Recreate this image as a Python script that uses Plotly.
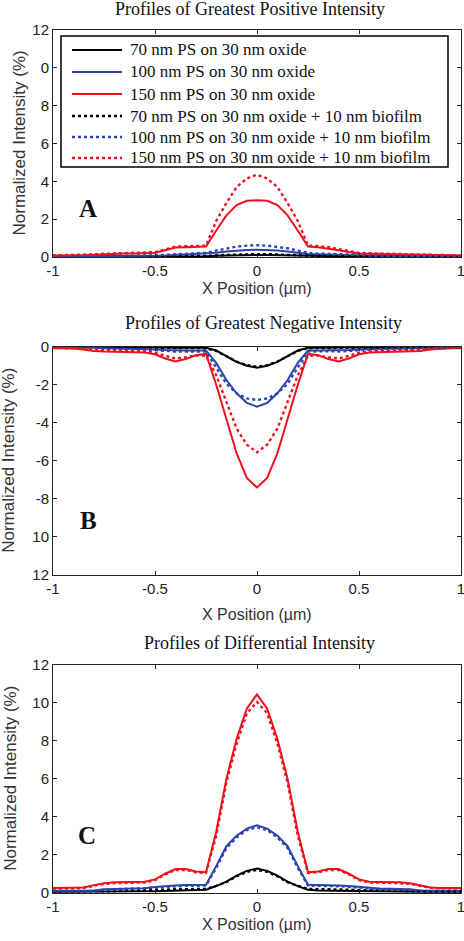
import plotly.graph_objects as go

W, H = 464, 941

X = [-1.0, -0.95, -0.9, -0.85, -0.8, -0.75, -0.7, -0.65, -0.6, -0.55, -0.5, -0.45, -0.4, -0.35, -0.3,
     -0.25, -0.2, -0.15, -0.1, -0.05, 0.0, 0.05, 0.1, 0.15, 0.2, 0.25, 0.3, 0.35, 0.4, 0.45, 0.5,
     0.55, 0.6, 0.65, 0.7, 0.75, 0.8, 0.85, 0.9, 0.95, 1.0]

series_names = ["70 nm PS on 30 nm oxide", "100 nm PS on 30 nm oxide", "150 nm PS on 30 nm oxide",
                "70 nm PS on 30 nm oxide + 10 nm biofilm", "100 nm PS on 30 nm oxide + 10 nm biofilm",
                "150 nm PS on 30 nm oxide + 10 nm biofilm"]

# Panel A: greatest positive intensity (%)
A_70 = [0.01, 0.01, 0.01, 0.01, 0.01, 0.01, 0.01, 0.01, 0.02, 0.02, 0.02, 0.02, 0.03, 0.03, 0.03, 0.04, 0.06, 0.08, 0.10, 0.11,
        0.11,
        0.11, 0.10, 0.08, 0.06, 0.04, 0.03, 0.03, 0.03, 0.02, 0.02, 0.02, 0.02, 0.01, 0.01, 0.01, 0.01, 0.01, 0.01, 0.01, 0.01]
A_100 = [0.03, 0.03, 0.03, 0.03, 0.04, 0.04, 0.05, 0.05, 0.05, 0.06, 0.07, 0.08, 0.10, 0.12, 0.14, 0.16, 0.22, 0.29, 0.34, 0.37,
         0.38,
         0.37, 0.34, 0.29, 0.22, 0.16, 0.14, 0.12, 0.10, 0.08, 0.07, 0.06, 0.05, 0.05, 0.05, 0.04, 0.04, 0.03, 0.03, 0.03, 0.03]
A_150 = [0.08, 0.08, 0.09, 0.10, 0.12, 0.15, 0.17, 0.18, 0.19, 0.20, 0.23, 0.36, 0.50, 0.52, 0.53, 0.55, 1.40, 2.20, 2.75, 2.97,
         3.00,
         2.97, 2.75, 2.20, 1.40, 0.55, 0.52, 0.46, 0.36, 0.26, 0.19, 0.17, 0.16, 0.15, 0.13, 0.11, 0.10, 0.09, 0.09, 0.08, 0.08]
A_70b = [0.01, 0.01, 0.01, 0.01, 0.02, 0.02, 0.02, 0.02, 0.02, 0.03, 0.03, 0.03, 0.04, 0.04, 0.05, 0.05, 0.08, 0.11, 0.13, 0.15,
         0.15,
         0.15, 0.13, 0.11, 0.08, 0.05, 0.05, 0.04, 0.04, 0.03, 0.03, 0.03, 0.02, 0.02, 0.02, 0.02, 0.02, 0.01, 0.01, 0.01, 0.01]
A_100b = [0.04, 0.04, 0.04, 0.05, 0.05, 0.06, 0.06, 0.07, 0.07, 0.08, 0.09, 0.11, 0.13, 0.16, 0.18, 0.22, 0.34, 0.46, 0.55, 0.60,
          0.62,
          0.60, 0.55, 0.46, 0.34, 0.22, 0.18, 0.16, 0.13, 0.11, 0.09, 0.08, 0.07, 0.07, 0.06, 0.06, 0.05, 0.05, 0.04, 0.04, 0.04]
A_150b = [0.08, 0.09, 0.10, 0.12, 0.14, 0.17, 0.19, 0.20, 0.21, 0.22, 0.26, 0.40, 0.55, 0.57, 0.58, 0.60, 1.90, 2.85, 3.70, 4.15,
          4.35,
          4.15, 3.70, 2.85, 1.90, 0.60, 0.58, 0.52, 0.42, 0.30, 0.22, 0.20, 0.19, 0.17, 0.15, 0.13, 0.11, 0.10, 0.09, 0.09, 0.08]

# Panel B: greatest negative intensity (%)
B_70 = [-0.01, -0.01, -0.01, -0.01, -0.02, -0.02, -0.02, -0.02, -0.03, -0.03, -0.03, -0.04, -0.05, -0.05, -0.05, -0.06, -0.20, -0.50, -0.80, -1.00,
        -1.10,
        -1.00, -0.80, -0.50, -0.20, -0.06, -0.05, -0.05, -0.05, -0.04, -0.03, -0.03, -0.03, -0.02, -0.02, -0.02, -0.02, -0.01, -0.01, -0.01, -0.01]
B_100 = [-0.03, -0.03, -0.04, -0.05, -0.06, -0.08, -0.09, -0.10, -0.11, -0.12, -0.15, -0.18, -0.20, -0.20, -0.20, -0.20, -0.85, -1.75, -2.45, -2.95,
         -3.15,
         -2.95, -2.45, -1.75, -0.85, -0.20, -0.20, -0.20, -0.20, -0.18, -0.15, -0.12, -0.11, -0.10, -0.09, -0.08, -0.06, -0.05, -0.04, -0.03, -0.03]
B_150 = [-0.08, -0.08, -0.10, -0.15, -0.22, -0.25, -0.26, -0.27, -0.28, -0.30, -0.40, -0.62, -0.78, -0.65, -0.45, -0.38, -2.00, -3.80, -5.60, -6.90,
         -7.40,
         -6.90, -5.60, -3.80, -2.00, -0.38, -0.45, -0.65, -0.78, -0.62, -0.40, -0.30, -0.28, -0.27, -0.26, -0.25, -0.22, -0.15, -0.10, -0.08, -0.08]
B_70b = [-0.01, -0.01, -0.01, -0.02, -0.02, -0.02, -0.03, -0.03, -0.03, -0.04, -0.05, -0.06, -0.07, -0.08, -0.08, -0.08, -0.22, -0.50, -0.78, -0.97,
         -1.05,
         -0.97, -0.78, -0.50, -0.22, -0.08, -0.08, -0.08, -0.07, -0.06, -0.05, -0.04, -0.03, -0.03, -0.03, -0.02, -0.02, -0.02, -0.01, -0.01, -0.01]
B_100b = [-0.03, -0.04, -0.05, -0.06, -0.08, -0.10, -0.11, -0.12, -0.13, -0.15, -0.18, -0.22, -0.25, -0.25, -0.24, -0.26, -1.10, -1.95, -2.45, -2.72,
          -2.80,
          -2.72, -2.45, -1.95, -1.10, -0.26, -0.24, -0.25, -0.25, -0.22, -0.18, -0.15, -0.13, -0.12, -0.11, -0.10, -0.08, -0.06, -0.05, -0.04, -0.03]
B_150b = [-0.05, -0.06, -0.08, -0.12, -0.16, -0.20, -0.21, -0.22, -0.23, -0.25, -0.32, -0.48, -0.62, -0.56, -0.46, -0.48, -1.50, -2.90, -4.30, -5.15,
          -5.55,
          -5.15, -4.30, -2.90, -1.50, -0.48, -0.46, -0.56, -0.62, -0.48, -0.32, -0.25, -0.23, -0.22, -0.21, -0.20, -0.16, -0.12, -0.08, -0.06, -0.05]

# Panel C: differential intensity (%)
C_70 = [0.04, 0.04, 0.04, 0.04, 0.05, 0.05, 0.05, 0.06, 0.06, 0.07, 0.08, 0.09, 0.10, 0.11, 0.12, 0.15, 0.35, 0.58, 0.90, 1.15,
        1.27,
        1.15, 0.90, 0.58, 0.35, 0.15, 0.12, 0.11, 0.10, 0.09, 0.08, 0.07, 0.06, 0.06, 0.05, 0.05, 0.05, 0.04, 0.04, 0.04, 0.04]
C_100 = [0.10, 0.10, 0.10, 0.10, 0.12, 0.18, 0.20, 0.21, 0.22, 0.24, 0.30, 0.35, 0.38, 0.40, 0.40, 0.42, 1.40, 2.45, 3.00, 3.38,
         3.55,
         3.38, 3.00, 2.45, 1.40, 0.42, 0.40, 0.40, 0.38, 0.35, 0.30, 0.24, 0.22, 0.21, 0.20, 0.18, 0.12, 0.10, 0.10, 0.10, 0.10]
C_150 = [0.25, 0.25, 0.25, 0.28, 0.40, 0.50, 0.55, 0.56, 0.57, 0.58, 0.70, 1.00, 1.25, 1.25, 1.12, 1.08, 3.20, 6.00, 8.10, 9.70,
         10.45,
         9.70, 8.10, 6.00, 3.20, 1.08, 1.12, 1.25, 1.25, 1.00, 0.70, 0.58, 0.57, 0.56, 0.55, 0.50, 0.40, 0.28, 0.25, 0.25, 0.25]
C_70b = [0.05, 0.05, 0.05, 0.05, 0.06, 0.07, 0.08, 0.09, 0.10, 0.12, 0.14, 0.16, 0.18, 0.19, 0.19, 0.20, 0.36, 0.56, 0.86, 1.10,
         1.20,
         1.10, 0.86, 0.56, 0.36, 0.20, 0.19, 0.19, 0.18, 0.16, 0.14, 0.12, 0.10, 0.09, 0.08, 0.07, 0.06, 0.05, 0.05, 0.05, 0.05]
C_100b = [0.08, 0.08, 0.08, 0.09, 0.10, 0.15, 0.17, 0.18, 0.19, 0.21, 0.26, 0.31, 0.34, 0.36, 0.36, 0.38, 1.30, 2.35, 2.92, 3.30,
          3.45,
          3.30, 2.92, 2.35, 1.30, 0.38, 0.36, 0.36, 0.34, 0.31, 0.26, 0.21, 0.19, 0.18, 0.17, 0.15, 0.10, 0.09, 0.08, 0.08, 0.08]
C_150b = [0.22, 0.22, 0.23, 0.26, 0.36, 0.46, 0.50, 0.52, 0.53, 0.54, 0.66, 0.96, 1.20, 1.20, 1.08, 1.04, 3.00, 5.80, 7.85, 9.45,
          10.05,
          9.45, 7.85, 5.80, 3.00, 1.04, 1.08, 1.20, 1.20, 0.96, 0.66, 0.54, 0.53, 0.52, 0.50, 0.46, 0.36, 0.26, 0.23, 0.22, 0.22]

panel_titles = ["Profiles of Greatest Positive Intensity", "Profiles of Greatest Negative Intensity",
                "Profiles of Differential Intensity"]
panel_letters = ["A", "B", "C"]
x_ticks = [-1, -0.5, 0, 0.5, 1]
x_ticktext = ["-1", "-0.5", "0", "0.5", "1"]
yA_ticks = [0, 2, 4, 6, 8, 10, 12]
yA_text = ["0", "2", "4", "6", "8", "0", "12"]
yB_ticks = [0, -2, -4, -6, -8, -10, -12]
yB_text = ["0", "-2", "-4", "-6", "-8", "10", "12"]
yC_ticks = [0, 2, 4, 6, 8, 10, 12]
yC_text = ["0", "2", "4", "6", "8", "10", "12"]

COLORS = ["#000000", "#2a44ae", "#f0101c"]
SANS = "Liberation Sans, Arial, sans-serif"
SERIF = "Liberation Serif, Times New Roman, serif"

# pixel geometry
PX_L, PX_R = 53, 461
PANELS_PX = [(30, 257), (346.7, 575), (665, 892.7)]


def py(p):
    return 1 - p / H


def pxx(p):
    return p / W


fig = go.Figure()
panel_data = [
    [A_70, A_100, A_150, A_70b, A_100b, A_150b],
    [B_70, B_100, B_150, B_70b, B_100b, B_150b],
    [C_70, C_100, C_150, C_70b, C_100b, C_150b],
]
for pi, data in enumerate(panel_data):
    xa = "x" if pi == 0 else f"x{pi+1}"
    ya = "y" if pi == 0 else f"y{pi+1}"
    for si, vals in enumerate(data):
        dotted = si >= 3
        fig.add_trace(go.Scatter(
            x=X, y=vals, mode="lines", name=series_names[si],
            xaxis=xa, yaxis=ya, showlegend=False,
            line=dict(color=COLORS[si % 3], width=2.4 if dotted else 2,
                      dash="dot" if dotted else "solid"),
            hoverinfo="skip",
        ))

axis_common = dict(showgrid=False, zeroline=False, showline=True, linecolor="#222",
                   linewidth=1, mirror="ticks", ticks="inside", ticklen=4, tickcolor="#222",
                   ticklabeloverflow="allow",
                   tickfont=dict(family=SANS, size=15, color="#222"))

layout = dict(width=W, height=H, margin=dict(l=0, r=0, t=0, b=0, autoexpand=False),
              paper_bgcolor="white", plot_bgcolor="white", showlegend=False)

yticks = [(yA_ticks, yA_text, [0, 12]), (yB_ticks, yB_text, [-12, 0]), (yC_ticks, yC_text, [0, 12])]
for pi, (top, bot) in enumerate(PANELS_PX):
    xk = "xaxis" if pi == 0 else f"xaxis{pi+1}"
    yk = "yaxis" if pi == 0 else f"yaxis{pi+1}"
    ya = "y" if pi == 0 else f"y{pi+1}"
    xa = "x" if pi == 0 else f"x{pi+1}"
    layout[xk] = dict(axis_common, domain=[pxx(PX_L), pxx(PX_R)], range=[-1, 1], anchor=ya,
                      tickvals=x_ticks, ticktext=x_ticktext)
    tv, tt, rg = yticks[pi]
    layout[yk] = dict(axis_common, domain=[py(bot), py(top)], range=rg, anchor=xa,
                      tickvals=tv, ticktext=tt)

fig.update_layout(**layout)

# Legend box (drawn in paper pixels), inside panel A
LEG_L, LEG_R, LEG_T, LEG_B = 61, 448, 36, 167
LEG_ROWS_Y = [50, 72, 94, 116, 137, 158]
fig.add_shape(type="rect", xref="paper", yref="paper",
              x0=pxx(LEG_L), x1=pxx(LEG_R), y0=py(LEG_B), y1=py(LEG_T),
              fillcolor="white", line=dict(color="#000", width=1.5), layer="above")
for si, name in enumerate(series_names):
    dotted = si >= 3
    yy = py(LEG_ROWS_Y[si])
    fig.add_shape(type="line", xref="paper", yref="paper",
                  x0=pxx(72), x1=pxx(122), y0=yy, y1=yy, layer="above",
                  line=dict(color=COLORS[si % 3], width=2.4 if dotted else 2,
                            dash="dot" if dotted else "solid"))
    fig.add_annotation(text=name, x=pxx(128), y=yy, xref="paper", yref="paper",
                       showarrow=False, xanchor="left", yanchor="middle",
                       font=dict(family=SERIF, size=17, color="#111"))

title_pos = [(250, 9), (263, 323), (259, 643)]
xtitle_y = [288, 614, 924]
ytitle_x = [19, 9, 11]
letter_pos = [(88, 208), (88, 520), (87, 835)]
for pi, (top, bot) in enumerate(PANELS_PX):
    fig.add_annotation(text=panel_titles[pi], x=pxx(title_pos[pi][0]), y=py(title_pos[pi][1]),
                       xref="paper", yref="paper", showarrow=False, xanchor="center", yanchor="middle",
                       font=dict(family=SERIF, size=18, color="#111"))
    fig.add_annotation(text="X Position (µm)", x=pxx(257), y=py(xtitle_y[pi]),
                       xref="paper", yref="paper", showarrow=False, xanchor="center", yanchor="middle",
                       font=dict(family=SANS, size=16, color="#333"))
    fig.add_annotation(text="Normalized Intensity (%)", x=pxx(ytitle_x[pi]), y=py((top + bot) / 2),
                       xref="paper", yref="paper", showarrow=False, xanchor="center", yanchor="middle",
                       textangle=-90, font=dict(family=SANS, size=17, color="#333"))
    fig.add_annotation(text="<b>%s</b>" % panel_letters[pi], x=pxx(letter_pos[pi][0]), y=py(letter_pos[pi][1]),
                       xref="paper", yref="paper", showarrow=False, xanchor="center", yanchor="middle",
                       font=dict(family=SERIF, size=25, color="#111"))

fig.write_html("out.html", config={"displayModeBar": False},
               post_script="document.body.style.margin='0';document.body.style.overflow='hidden';")
